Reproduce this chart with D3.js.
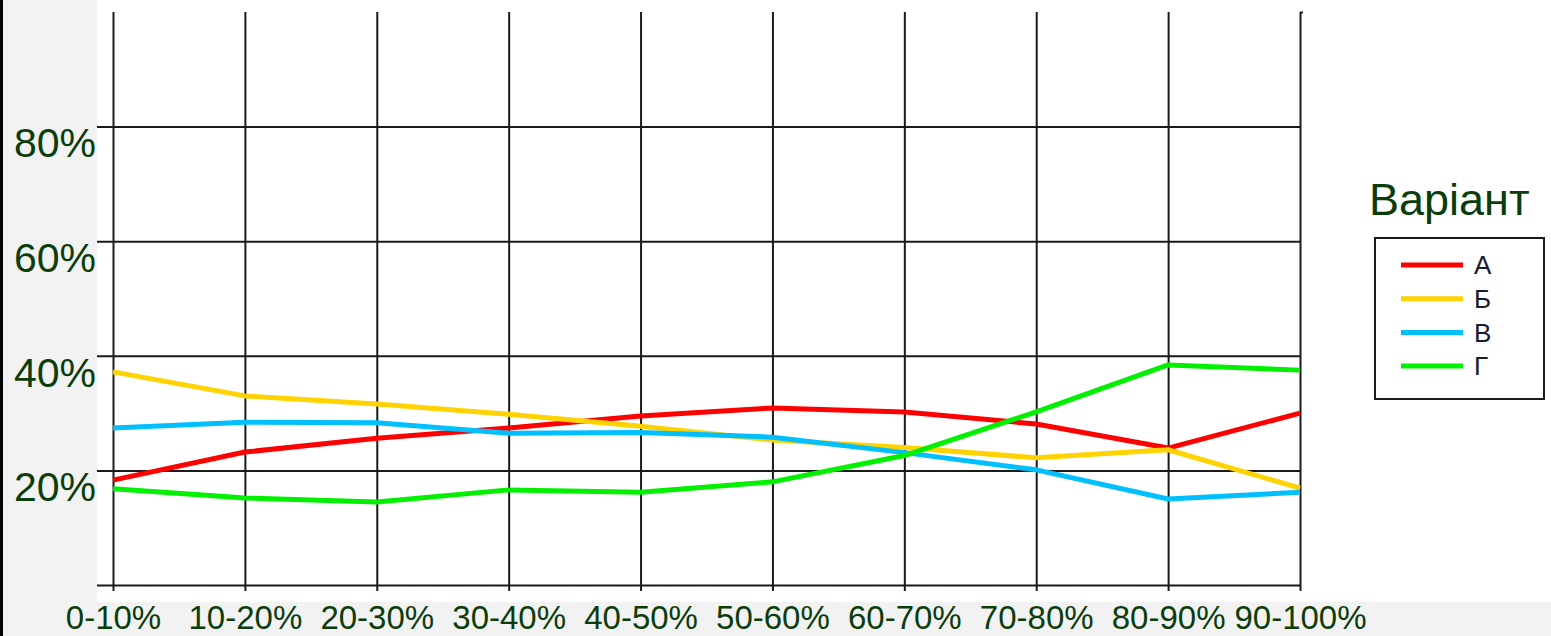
<!DOCTYPE html>
<html>
<head>
<meta charset="utf-8">
<script src="https://cdn.jsdelivr.net/npm/d3@7"></script>
<style>
  html, body { margin: 0; padding: 0; background: #f2f2f2; }
  svg { display: block; }
  text { font-family: "Liberation Sans", Arial, sans-serif; }
</style>
</head>
<body>
<svg id="chart" width="1551" height="636"></svg>
<script>
const categories = ["0-10%", "10-20%", "20-30%", "30-40%", "40-50%", "50-60%", "60-70%", "70-80%", "80-90%", "90-100%"];
const seriesNames = ["А", "Б", "В", "Г"];
const seriesColors = ["#ff0000", "#ffd200", "#00bfff", "#00f000"];
const valuesA = [18.3, 23.2, 25.6, 27.4, 29.5, 30.9, 30.2, 28.1, 23.9, 30.0];
const valuesB = [37.2, 33.0, 31.6, 29.8, 27.7, 25.3, 24.0, 22.2, 23.6, 16.9];
const valuesC = [27.4, 28.4, 28.3, 26.5, 26.6, 25.8, 23.1, 20.1, 15.0, 16.2];
const valuesD = [16.8, 15.2, 14.5, 16.6, 16.2, 18.0, 22.6, 30.2, 38.4, 37.5];
const yTicks = [0, 20, 40, 60, 80, 100];
const yTickLabels = ["", "20%", "40%", "60%", "80%", ""];
const legendTitle = "Варіант";

const series = [valuesA, valuesB, valuesC, valuesD].map((vals, i) => ({
  name: seriesNames[i], color: seriesColors[i], values: vals
}));

const svg = d3.select("#chart");
const textColor = "#0b3d0b";
const gridColor = "#1a1a1a";

// backgrounds
svg.append("rect").attr("x", 0).attr("y", 0).attr("width", 1551).attr("height", 636).attr("fill", "#f2f2f2");
svg.append("rect").attr("x", 0).attr("y", 0).attr("width", 3).attr("height", 636).attr("fill", "#000");
svg.append("rect").attr("x", 97).attr("y", 0).attr("width", 1454).attr("height", 602).attr("fill", "#ffffff");

const xLeft = 113, xRight = 1300, yTop = 12, yBottom = 585;
const x = d3.scalePoint().domain(categories).range([xLeft, xRight]);
const y = d3.scaleLinear().domain([0, 100]).range([yBottom, yTop]);

// horizontal grid + y labels
const yAxis = d3.axisLeft(y)
  .tickValues(yTicks)
  .tickSize(xRight - 97)
  .tickPadding(1)
  .tickFormat((d, i) => yTickLabels[i]);
const gy = svg.append("g").attr("transform", `translate(${xRight},0)`).call(yAxis);
gy.select(".domain").remove();
gy.selectAll("line").attr("stroke", gridColor).attr("stroke-width", 2);
gy.selectAll("text")
  .attr("fill", textColor)
  .attr("font-size", 41)
  .attr("dy", "0.74em")
  .attr("font-family", "Liberation Sans, Arial, sans-serif");
gy.selectAll(".tick").filter(d => d === 100).select("line").attr("x2", 3);

// vertical grid + x labels
const xAxis = d3.axisBottom(x)
  .tickSizeInner(-(591 - yTop))
  .tickSizeOuter(0)
  .tickPadding(14.5);
const gx = svg.append("g").attr("transform", `translate(0,591)`).call(xAxis);
gx.select(".domain").remove();
gx.selectAll("line").attr("stroke", gridColor).attr("stroke-width", 2);
gx.selectAll("text")
  .attr("fill", textColor)
  .attr("font-size", 33)
  .attr("font-family", "Liberation Sans, Arial, sans-serif");

// series lines
const line = d3.line()
  .x((d, i) => x(categories[i]))
  .y(d => y(d));

svg.append("g").selectAll("path")
  .data(series)
  .join("path")
  .attr("d", s => line(s.values))
  .attr("fill", "none")
  .attr("stroke", s => s.color)
  .attr("stroke-width", 5)
  .attr("stroke-linejoin", "round")
  .attr("stroke-linecap", "butt");

// legend
svg.append("text")
  .attr("x", 1369)
  .attr("y", 215)
  .attr("fill", textColor)
  .attr("font-size", 45)
  .text(legendTitle);

svg.append("rect")
  .attr("x", 1375).attr("y", 238)
  .attr("width", 169).attr("height", 161)
  .attr("fill", "#fff")
  .attr("stroke", "#1a1a1a")
  .attr("stroke-width", 2);

const lg = svg.append("g").selectAll("g")
  .data(series)
  .join("g")
  .attr("transform", (d, i) => `translate(0,${265 + i * 33.7})`);
lg.append("line")
  .attr("x1", 1401).attr("x2", 1463)
  .attr("y1", 0).attr("y2", 0)
  .attr("stroke", d => d.color)
  .attr("stroke-width", 5);
lg.append("text")
  .attr("x", 1474)
  .attr("y", 0)
  .attr("dy", "0.36em")
  .attr("font-size", 26)
  .attr("fill", "#1a1a33")
  .text(d => d.name);
</script>
</body>
</html>
